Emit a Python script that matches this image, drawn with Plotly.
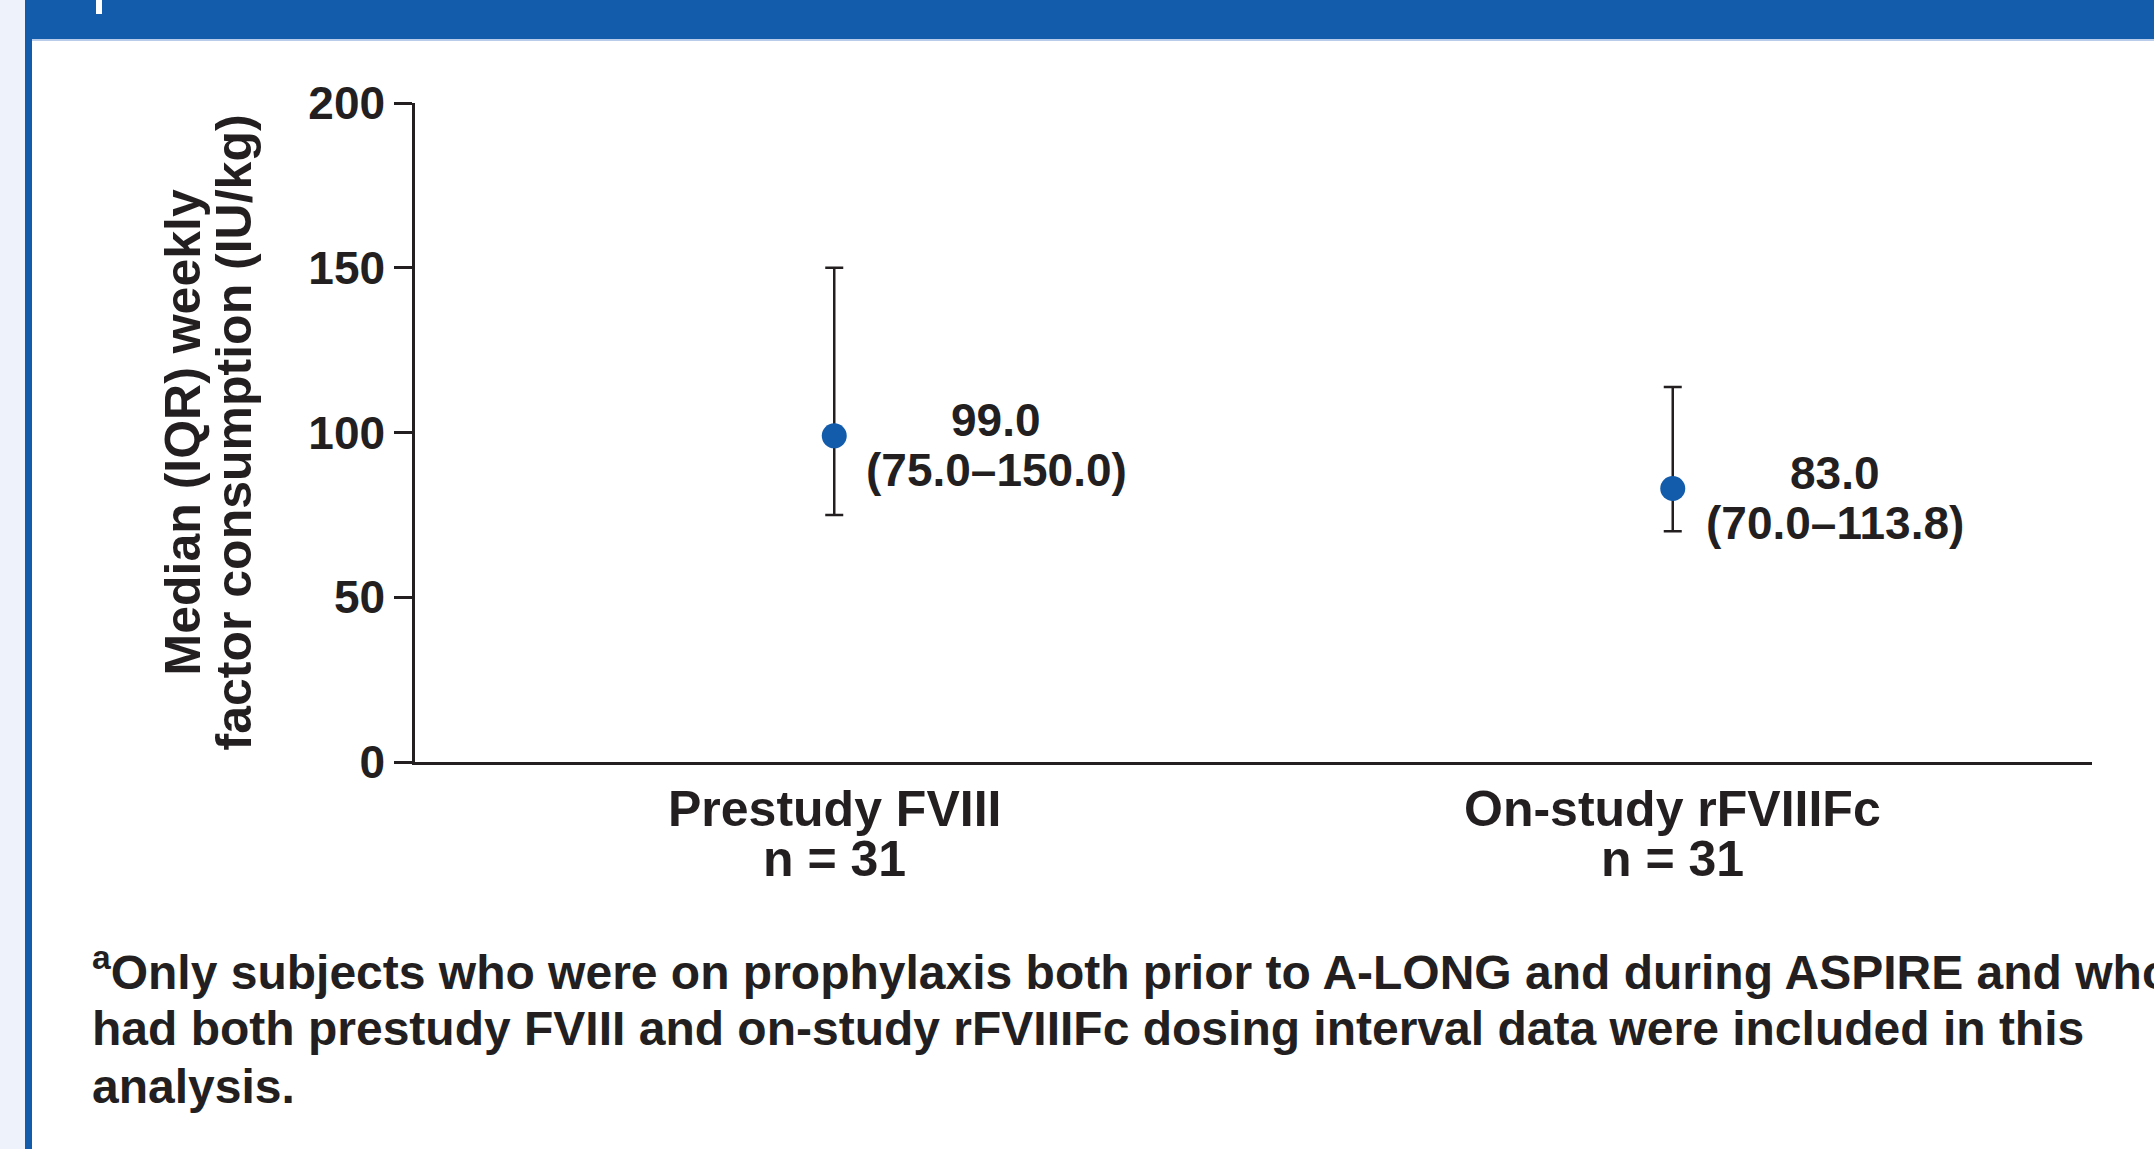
import plotly.graph_objects as go

# ---- data ----
categories = ["Prestudy FVIII", "On-study rFVIIIFc"]
n_labels = ["n = 31", "n = 31"]
medians = [99.0, 83.0]
q1 = [75.0, 70.0]
q3 = [150.0, 113.8]
y_ticks = [0, 50, 100, 150, 200]
y_title = ["Median (IQR) weekly", "factor consumption (IU/kg)"]
footnote = [
    "<sup>a</sup>Only subjects who were on prophylaxis both prior to A-LONG and during ASPIRE and who",
    "had both prestudy FVIII and on-study rFVIIIFc dosing interval data were included in this",
    "analysis.",
]

# ---- style ----
W, H = 2154, 1149
L, R, T, B = 415, 62, 103, 387
INK = "#231F20"
BLUE = "#135CAB"
FONT = "Liberation Sans, Arial, Helvetica, sans-serif"

pw = W - L - R
ph = H - T - B


def px2x(px):
    return (px - L) / pw


def px2y(py):
    return (H - B - py) / ph


xs = list(range(len(categories)))

fig = go.Figure()
fig.add_trace(
    go.Scatter(
        x=xs,
        y=medians,
        mode="markers",
        marker=dict(color=BLUE, size=25, line=dict(width=0)),
        error_y=dict(
            type="data",
            symmetric=False,
            array=[h - m for h, m in zip(q3, medians)],
            arrayminus=[m - l for m, l in zip(medians, q1)],
            color=INK,
            thickness=2.5,
            width=9,
        ),
        showlegend=False,
        hoverinfo="skip",
    )
)

ann = []
for i, (c, n, m, lo, hi) in enumerate(zip(categories, n_labels, medians, q1, q3)):
    ann.append(dict(x=i, y=m, xref="x", yref="y", text=f"{m:.1f}", showarrow=False,
                    xanchor="center", yanchor="middle", xshift=162, yshift=16,
                    font=dict(family=FONT, size=46, color=INK, weight="bold")))
    ann.append(dict(x=i, y=m, xref="x", yref="y", text=f"({lo:.1f}\u2013{hi:.1f})", showarrow=False,
                    xanchor="center", yanchor="middle", xshift=162, yshift=-34,
                    font=dict(family=FONT, size=46, color=INK, weight="bold")))
    ann.append(dict(x=i, y=0, xref="x", yref="paper", text=c, showarrow=False,
                    xanchor="center", yanchor="middle", yshift=-47,
                    font=dict(family=FONT, size=50, color=INK, weight="bold")))
    ann.append(dict(x=i, y=0, xref="x", yref="paper", text=n, showarrow=False,
                    xanchor="center", yanchor="middle", yshift=-97,
                    font=dict(family=FONT, size=50, color=INK, weight="bold")))

for k, t in enumerate(y_title):
    ann.append(dict(x=0, y=0.5, xref="paper", yref="paper", text=t, showarrow=False,
                    textangle=-90, xanchor="center", yanchor="middle",
                    xshift=[-233, -182][k],
                    font=dict(family=FONT, size=50, color=INK, weight="bold")))

for k, t in enumerate(footnote):
    ann.append(dict(x=px2x(90), y=px2y([969, 1028, 1086][k]), xref="paper", yref="paper",
                    text=t, showarrow=False, xanchor="left", yanchor="middle",
                    font=dict(family=FONT, size=48, color=INK, weight="bold")))

shapes = [
    # pale left band
    dict(type="rect", xref="paper", yref="paper", x0=px2x(0), x1=px2x(25), y0=px2y(0), y1=px2y(H),
         fillcolor="#EEF2FA", line=dict(width=0), layer="below"),
    # blue left rule
    dict(type="rect", xref="paper", yref="paper", x0=px2x(25), x1=px2x(32), y0=px2y(0), y1=px2y(H),
         fillcolor=BLUE, line=dict(width=0), layer="below"),
    # top banner
    dict(type="rect", xref="paper", yref="paper", x0=px2x(25), x1=px2x(W), y0=px2y(0), y1=px2y(39),
         fillcolor=BLUE, line=dict(width=0), layer="below"),
    dict(type="rect", xref="paper", yref="paper", x0=px2x(32), x1=px2x(W), y0=px2y(39), y1=px2y(41),
         fillcolor="#B9CDEA", line=dict(width=0), layer="below"),
    dict(type="rect", xref="paper", yref="paper", x0=px2x(96), x1=px2x(102), y0=px2y(0), y1=px2y(14),
         fillcolor="white", line=dict(width=0), layer="above"),
]

fig.update_layout(
    width=W,
    height=H,
    margin=dict(l=L, r=R, t=T, b=B, pad=0),
    paper_bgcolor="white",
    plot_bgcolor="white",
    annotations=ann,
    shapes=shapes,
    xaxis=dict(range=[-0.5, len(categories) - 0.5], showline=True, linecolor=INK, linewidth=2.5,
               showticklabels=False, ticks="", showgrid=False, zeroline=False, fixedrange=True),
    yaxis=dict(range=[0, 200], tickvals=y_ticks, ticktext=[str(v) for v in y_ticks],
               showline=True, linecolor=INK, linewidth=2.5, ticks="outside", ticklen=18,
               tickwidth=2.5, tickcolor=INK, showgrid=False, zeroline=False,
               tickfont=dict(family=FONT, size=46, color=INK, weight="bold")),
)

fig.write_html(
    "out.html",
    config={"displayModeBar": False},
    post_script="document.body.style.margin='0';document.body.style.overflow='hidden';",
)
